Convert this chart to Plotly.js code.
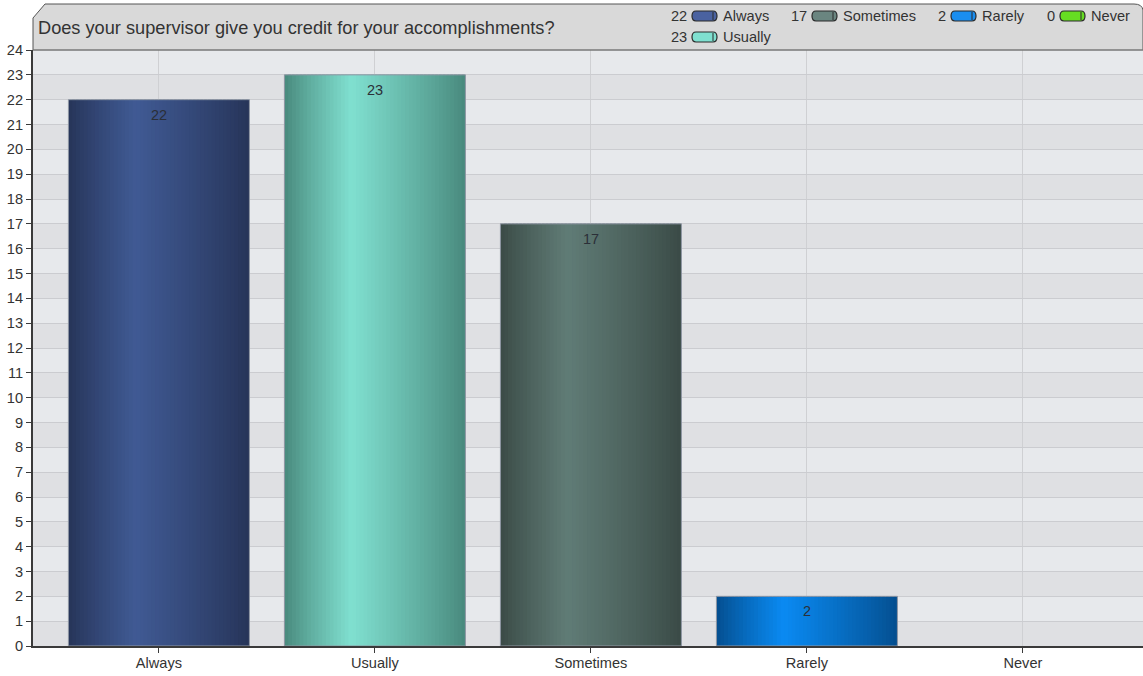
<!DOCTYPE html>
<html>
<head>
<meta charset="utf-8">
<script src="https://cdn.plot.ly/plotly-3.0.1.min.js"></script>
<style>
  html, body { margin: 0; padding: 0; background: #ffffff; }
  #chart { width: 1143px; height: 676px; }
</style>
</head>
<body>
<div id="chart"></div>
<script>
// ---------- data ----------
const chartTitle = 'Does your supervisor give you credit for your accomplishments?';
const categories = ['Always', 'Usually', 'Sometimes', 'Rarely', 'Never'];
const counts = [22, 23, 17, 2, 0];
const yTickVals = [0, 1, 2, 3, 4, 5, 6, 7, 8, 9, 10, 11, 12, 13, 14, 15, 16, 17, 18, 19, 20, 21, 22, 23, 24];

// ---------- styles ----------
const darkColors  = [[38, 52, 88], [72, 136, 124], [58, 74, 70], [4, 78, 142], [60, 150, 20]];
const lightColors = [[64, 90, 148], [128, 224, 208], [96, 124, 118], [10, 138, 242], [110, 220, 40]];
const legendColors = ['#4a62a0', '#7fe0d0', '#6a8580', '#1a8ef0', '#66dd22'];
const FONT = 'Arial, "Liberation Sans", sans-serif';
const TXT = '#333333';

// pixel -> paper helpers (plot area: x 33..1143, y 50..646)
const L = 33, R = 1143, T = 50, B = 646;
const px = x => (x - L) / (R - L);
const py = y => (B - y) / (B - T);

const barWidth = 0.838;
const N = 48;
const peak = 0.37;
const s = barWidth / N;

function mix(a, b, f) {
  return 'rgb(' + a.map((v, i) => Math.round(v + (b[i] - v) * f)).join(',') + ')';
}

const traces = [];
for (let i = 0; i < N; i++) {
  const t = (i + 0.5) / N;
  let f = t < peak ? t / peak : (1 - t) / (1 - peak);
  f = Math.pow(Math.max(0, f), 0.9);
  const off = -barWidth / 2 + i * s;
  const w = Math.min(s * 1.7, barWidth / 2 - off);
  traces.push({
    type: 'bar',
    x: categories,
    y: counts,
    offset: off,
    width: w,
    marker: { color: categories.map((c, k) => mix(darkColors[k], lightColors[k], f)), line: { width: 0 } },
    hoverinfo: 'skip',
    showlegend: false
  });
}
// outline
traces.push({
  type: 'bar',
  x: categories,
  y: counts,
  width: barWidth,
  marker: { color: 'rgba(0,0,0,0)', line: { color: '#8e96a3', width: counts.map(v => (v > 0 ? 1 : 0)) } },
  hoverinfo: 'x+y',
  showlegend: false
});

// ---------- shapes ----------
const shapes = [];
// alternating horizontal bands
for (let n = 0; n < yTickVals.length - 1; n++) {
  shapes.push({
    type: 'rect', xref: 'paper', yref: 'y', layer: 'below',
    x0: 0, x1: 1, y0: yTickVals[n], y1: yTickVals[n + 1],
    fillcolor: (n % 2 === 1) ? '#e7e9ec' : '#dfe0e3', line: { width: 0 }
  });
}
// title box
shapes.push({
  type: 'path', xref: 'paper', yref: 'paper', layer: 'above',
  path: 'M ' + px(33) + ',' + py(50) + ' L ' + px(33) + ',' + py(18) +
        ' L ' + px(45) + ',' + py(4) + ' L ' + px(1134) + ',' + py(4) +
        ' Q ' + px(1142) + ',' + py(4) + ' ' + px(1143) + ',' + py(10) +
        ' L ' + px(1143) + ',' + py(50) + ' Z',
  fillcolor: '#d9d9d9',
  line: { color: '#555555', width: 1 }
});
shapes.push({
  type: 'line', xref: 'paper', yref: 'paper', layer: 'above',
  x0: 0, x1: 1, y0: 1, y1: 1, line: { color: '#8a8a8a', width: 1 }
});

// ---------- value labels ----------
const annotations = [];
categories.forEach((c, k) => {
  if (counts[k] > 0) {
    annotations.push({
      xref: 'x', yref: 'y', x: c, y: counts[k], yanchor: 'middle', yshift: -15,
      text: String(counts[k]), showarrow: false,
      font: { family: FONT, size: 14.5, color: '#2b2f38' }
    });
  }
});

// ---------- legend (custom) ----------
const legendSlots = [[692, 16], [692, 37], [812, 16], [951, 16], [1060, 16]];
categories.forEach((c, k) => {
  const [ix, iy] = legendSlots[k];
  const iw = 25, ih = 10, r = 4;
  const x0 = ix, x1 = ix + iw, y0 = iy - ih / 2, y1 = iy + ih / 2;
  shapes.push({
    type: 'path', xref: 'paper', yref: 'paper', layer: 'above',
    path: 'M ' + px(x0 + r) + ',' + py(y0) + ' L ' + px(x1 - r) + ',' + py(y0) +
          ' Q ' + px(x1) + ',' + py(y0) + ' ' + px(x1) + ',' + py(iy) +
          ' Q ' + px(x1) + ',' + py(y1) + ' ' + px(x1 - r) + ',' + py(y1) +
          ' L ' + px(x0 + r) + ',' + py(y1) +
          ' Q ' + px(x0) + ',' + py(y1) + ' ' + px(x0) + ',' + py(iy) +
          ' Q ' + px(x0) + ',' + py(y0) + ' ' + px(x0 + r) + ',' + py(y0) + ' Z',
    fillcolor: legendColors[k],
    line: { color: '#2a2a2a', width: 1.2 }
  });
  shapes.push({
    type: 'line', xref: 'paper', yref: 'paper', layer: 'above',
    x0: px(x1 - 4), x1: px(x1 - 4), y0: py(y0 + 1), y1: py(y1 - 1),
    line: { color: '#2a2a2a', width: 1 }
  });
  annotations.push({
    xref: 'paper', yref: 'paper', x: px(ix - 3), y: py(iy), xanchor: 'right', yanchor: 'middle',
    text: String(counts[k]), showarrow: false, font: { family: FONT, size: 14.6, color: TXT }
  });
  annotations.push({
    xref: 'paper', yref: 'paper', x: px(ix + iw + 4), y: py(iy), xanchor: 'left', yanchor: 'middle',
    text: c, showarrow: false, font: { family: FONT, size: 14.6, color: TXT }
  });
});

const layout = {
  width: 1143,
  height: 676,
  margin: { l: L, r: 0, t: T, b: 676 - B, pad: 0 },
  paper_bgcolor: '#ffffff',
  plot_bgcolor: '#dfe0e3',
  barmode: 'overlay',
  showlegend: false,
  title: {
    text: chartTitle,
    font: { family: FONT, size: 18.2, color: TXT },
    xref: 'paper', x: px(38), xanchor: 'left',
    yref: 'container', y: 1 - 28 / 676, yanchor: 'middle'
  },
  xaxis: {
    type: 'category',
    range: [-0.583, 4.556],
    showgrid: true, gridcolor: '#cfd0d3', gridwidth: 1,
    showline: true, linecolor: '#3a3a3a', linewidth: 2,
    ticks: 'outside', ticklen: 5, tickcolor: '#3a3a3a',
    ticklabelstandoff: -3,
    tickfont: { family: FONT, size: 14.6, color: TXT },
    zeroline: false, fixedrange: true
  },
  yaxis: {
    range: [0, 24],
    tickmode: 'array', tickvals: yTickVals, ticktext: yTickVals.map(String),
    showgrid: true, gridcolor: '#cbccd0', gridwidth: 1,
    showline: true, linecolor: '#3a3a3a', linewidth: 2,
    ticks: 'outside', ticklen: 5, tickcolor: '#3a3a3a',
    tickfont: { family: FONT, size: 14.6, color: TXT },
    zeroline: false, fixedrange: true
  },
  shapes: shapes,
  annotations: annotations
};

Plotly.newPlot('chart', traces, layout, { displayModeBar: false, staticPlot: true });
</script>
</body>
</html>
